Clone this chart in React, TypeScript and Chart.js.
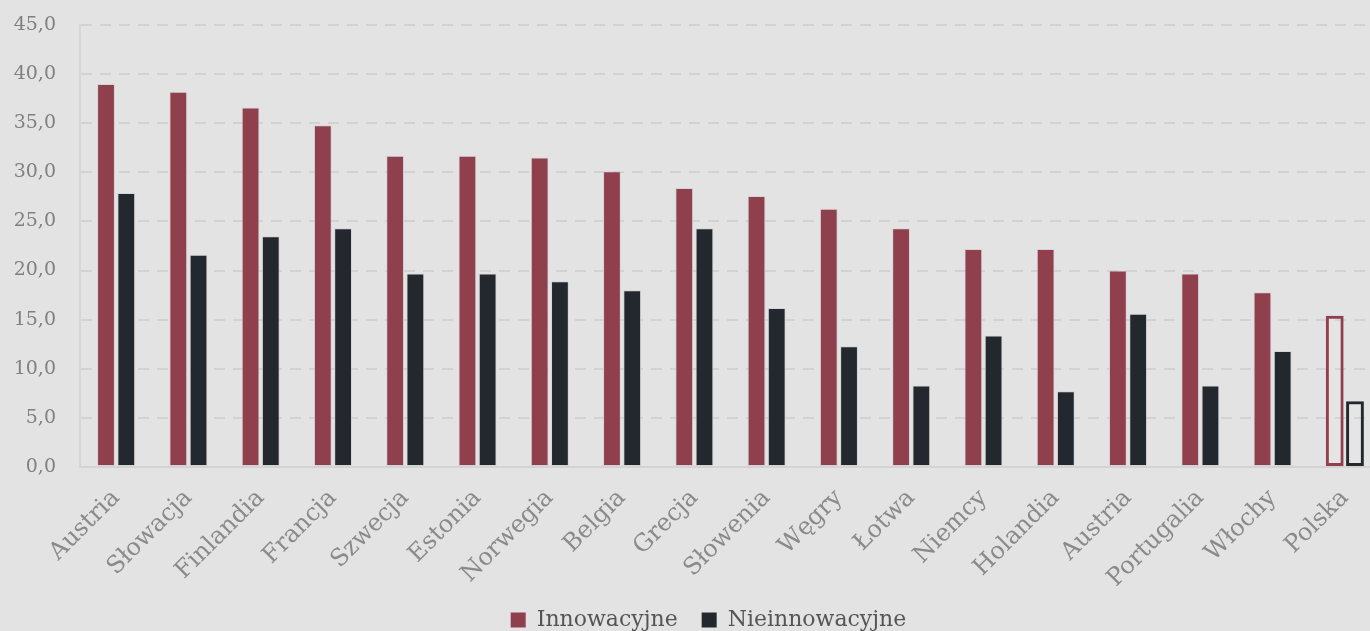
import React, { useEffect, useRef } from "react";
import { Chart, registerables } from "chart.js";

Chart.register(...registerables);

const categories = [
  "Austria", "Słowacja", "Finlandia", "Francja", "Szwecja", "Estonia",
  "Norwegia", "Belgia", "Grecja", "Słowenia", "Węgry", "Łotwa",
  "Niemcy", "Holandia", "Austria", "Portugalia", "Włochy", "Polska",
];
const innowacyjne = [39.0, 38.2, 36.6, 34.8, 31.7, 31.7, 31.5, 30.1, 28.4, 27.6, 26.3, 24.3, 22.2, 22.2, 20.0, 19.7, 17.8, 15.4];
const nieinnowacyjne = [27.9, 21.6, 23.5, 24.3, 19.7, 19.7, 18.9, 18.0, 24.3, 16.2, 12.3, 8.3, 13.4, 7.7, 15.6, 8.3, 11.8, 6.7];
const seriesNames = ["Innowacyjne", "Nieinnowacyjne"];
const highlightLabel = "Polska";

const RED = "#903f4d";
const DARK = "#23272e";
const BG = "#e3e3e3";
const TEXT = "#555555";
const FONT = "'DejaVu Serif', serif";

export default function App() {
  const ref = useRef<HTMLCanvasElement | null>(null);

  useEffect(() => {
    document.body.style.margin = "0";
    const canvas = ref.current!;
    const hi = (i: number) => categories[i] === highlightLabel;
    const mk = (data: number[], color: string, label: string) => ({
      label,
      data,
      backgroundColor: data.map((_, i) => (hi(i) ? "rgba(255,255,255,0.08)" : color)),
      borderColor: data.map((_, i) => (hi(i) ? color : "rgba(205,205,205,0.7)")),
      borderWidth: data.map((_, i) => (hi(i) ? 3 : 1)),
      borderSkipped: false as const,
      categoryPercentage: 0.56,
      barPercentage: 0.88,
    });
    const chart = new Chart(canvas, {
      type: "bar",
      data: {
        labels: categories,
        datasets: [mk(innowacyjne, RED, seriesNames[0]), mk(nieinnowacyjne, DARK, seriesNames[1])],
      },
      options: {
        animation: false,
        responsive: false,
        layout: { padding: { top: 25, right: 37, left: 0, bottom: -10 } },
        plugins: {
          tooltip: { enabled: false },
          legend: {
            position: "bottom",
            labels: {
              font: { family: FONT, size: 22 },
              color: TEXT,
              boxWidth: 15,
              boxHeight: 15,
              padding: 3,
              generateLabels: () => [
                { text: "\u00A0", fillStyle: "rgba(0,0,0,0)", strokeStyle: "rgba(0,0,0,0)", lineWidth: 0, fontColor: "rgba(0,0,0,0)", datasetIndex: -1 },
                { text: seriesNames[0] + "\u00A0\u00A0\u00A0", fillStyle: RED, strokeStyle: RED, lineWidth: 0, fontColor: TEXT, datasetIndex: 0 },
                { text: seriesNames[1], fillStyle: DARK, strokeStyle: DARK, lineWidth: 0, fontColor: TEXT, datasetIndex: 1 },
              ] as any,
            },
          },
        },
        scales: {
          x: {
            grid: { display: false },
            border: { display: true, color: "#d3d3d3", width: 2 },
            ticks: {
              font: { family: FONT, size: 24 },
              color: "#8a8a8a",
              minRotation: 45,
              maxRotation: 45,
              padding: 9,
            },
            afterFit: (s: any) => { s.height = 139; },
          },
          y: {
            min: 0,
            max: 45,
            ticks: {
              stepSize: 5,
              font: { family: FONT, size: 19 },
              color: "#808080",
              padding: 24,
              callback: (v: any) => Number(v).toFixed(1).replace(".", ","),
            },
            grid: { color: "#d2d2d2", lineWidth: 2, drawTicks: false },
            border: { display: true, color: "#d5d5d5", width: 2, dash: [11, 8] },
            afterFit: (s: any) => { s.width = 80; s.paddingTop = 0; },
          },
        },
      },
    });
    return () => chart.destroy();
  }, []);

  return (
    <div style={{ position: "fixed", left: 0, top: 0, width: 1370, height: 631, overflow: "hidden", background: BG }}>
      <canvas ref={ref} width={1418} height={631} style={{ display: "block" }} />
    </div>
  );
}
